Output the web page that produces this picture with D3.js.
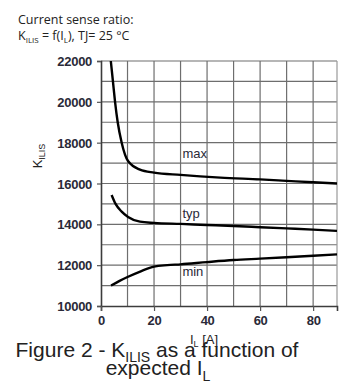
<!DOCTYPE html>
<html>
<head>
<meta charset="utf-8">
<script src="https://cdn.jsdelivr.net/npm/d3@7"></script>
<style>
  body { margin: 0; background: #fff; }
  svg { display: block; }
</style>
</head>
<body>
<svg id="chart" width="344" height="388"></svg>
<script>
// curve data: current I_L [A] -> K_ILIS
const maxCurrent = [3.7, 4.5, 5.3, 6.3, 7.8, 10.2, 14.7, 20, 30, 45, 60, 70, 80, 89];
const maxValues = [22000, 21000, 20000, 19000, 18000, 17100, 16680, 16530, 16420, 16290, 16200, 16130, 16060, 16000];

const typCurrent = [4.0, 5.5, 7.8, 10.2, 14.7, 20, 30, 40, 50, 60, 70, 80, 89];
const typValues = [15440, 15000, 14620, 14360, 14130, 14070, 14020, 13970, 13920, 13860, 13800, 13740, 13680];

const minCurrent = [3.8, 7, 10, 15, 20, 25, 30, 40, 50, 60, 70, 80, 89];
const minValues = [11000, 11230, 11420, 11700, 11930, 12000, 12040, 12150, 12250, 12320, 12390, 12460, 12530];

const curveNames = ['max', 'typ', 'min'];
const labelValues = [17240, 14300, 11470];

const xTicks = [0, 20, 40, 60, 80];
const yTicks = [10000, 12000, 14000, 16000, 18000, 20000, 22000];

const series = [
  { name: curveNames[0], xs: maxCurrent, ys: maxValues, label: labelValues[0] },
  { name: curveNames[1], xs: typCurrent, ys: typValues, label: labelValues[1] },
  { name: curveNames[2], xs: minCurrent, ys: minValues, label: labelValues[2] }
];

const svg = d3.select('#chart');
const plotL = 101, plotR = 337, plotT = 61, plotB = 306;
const textColor = '#2a2a38';

const x = d3.scaleLinear().domain([0, 89]).range([plotL, plotR]);
const y = d3.scaleLinear().domain([10000, 22000]).range([plotB, plotT]);

// header text
const head = svg.append('g')
  .style('font-family', '"Open Sans", sans-serif')
  .style('font-size', '12.5px')
  .attr('fill', '#222');
head.append('text').attr('x', 18).attr('y', 24).text('Current sense ratio:');
const h2 = head.append('text').attr('x', 18).attr('y', 40);
h2.append('tspan').text('K');
h2.append('tspan').attr('dy', 3).style('font-size', '8px').text('ILIS');
h2.append('tspan').attr('dy', -3).text(' = f(I');
h2.append('tspan').attr('dy', 3).style('font-size', '8px').text('L');
h2.append('tspan').attr('dy', -3).text('), TJ= 25 °C');

// grid
const grid = svg.append('g').attr('stroke', '#6e6e6e').attr('stroke-width', 1.2);
grid.selectAll('.vg')
  .data(d3.range(10, 89, 10))
  .enter().append('line')
  .attr('x1', d => x(d)).attr('x2', d => x(d))
  .attr('y1', plotT).attr('y2', plotB);
grid.selectAll('.hg')
  .data(d3.range(11000, 22001, 1000))
  .enter().append('line')
  .attr('x1', plotL).attr('x2', plotR)
  .attr('y1', d => y(d)).attr('y2', d => y(d));
grid.append('line')
  .attr('x1', plotR).attr('x2', plotR)
  .attr('y1', plotT).attr('y2', plotB)
  .attr('stroke', '#999');

// axes
const yAxis = d3.axisLeft(y).tickValues(yTicks).tickSize(4).tickFormat(d3.format('d'));
const xAxis = d3.axisBottom(x).tickValues(xTicks).tickSize(5).tickFormat(d3.format('d'));

const gy = svg.append('g').attr('transform', `translate(${plotL},0)`).call(yAxis);
const gx = svg.append('g').attr('transform', `translate(0,${plotB})`).call(xAxis);
[gx, gy].forEach(g => {
  g.select('.domain').attr('stroke', '#3c3c3c').attr('stroke-width', 1.6);
  g.selectAll('.tick line').attr('stroke', '#555').attr('stroke-width', 1.2);
  g.selectAll('.tick text')
    .attr('fill', textColor)
    .style('font-family', '"Liberation Sans", Arial, sans-serif')
    .style('font-size', '13px')
    .style('font-weight', 'bold')
    .style('letter-spacing', '-0.3px');
});
gy.selectAll('.tick text').attr('x', -9).attr('dy', '0.35em');
gx.selectAll('.tick text').attr('y', 10).attr('dy', '0.71em');

// curves
const line = d3.line()
  .x(d => x(d[0]))
  .y(d => y(d[1]))
  .curve(d3.curveMonotoneX);

svg.append('g').selectAll('path')
  .data(series)
  .enter().append('path')
  .attr('d', s => line(s.xs.map((v, i) => [v, s.ys[i]])))
  .attr('fill', 'none')
  .attr('stroke', '#000')
  .attr('stroke-width', 2.4);

svg.append('g').selectAll('text')
  .data(series)
  .enter().append('text')
  .attr('x', x(30.7))
  .attr('y', s => y(s.label))
  .attr('fill', textColor)
  .style('font-family', '"Liberation Sans", Arial, sans-serif')
  .style('font-size', '13px')
  .text(s => s.name);

// axis titles
const yl = svg.append('text')
  .attr('transform', 'translate(42,156) rotate(-90)')
  .attr('text-anchor', 'middle')
  .attr('fill', '#222')
  .style('font-family', '"Liberation Sans", Arial, sans-serif')
  .style('font-size', '13px');
yl.append('tspan').text('K');
yl.append('tspan').attr('dy', 3).style('font-size', '9px').text('ILIS');

const xl = svg.append('text')
  .attr('x', 204).attr('y', 344)
  .attr('text-anchor', 'middle')
  .attr('fill', '#222')
  .style('font-family', '"Liberation Sans", Arial, sans-serif')
  .style('font-size', '13px');
xl.append('tspan').text('I');
xl.append('tspan').attr('dy', 3).style('font-size', '9px').text('L');
xl.append('tspan').attr('dy', -3).text(' [A]');

// caption
const cap = svg.append('g')
  .attr('fill', '#222')
  .attr('text-anchor', 'middle')
  .style('font-family', '"Liberation Sans", Arial, sans-serif')
  .style('font-size', '21px');
const c1 = cap.append('text').attr('x', 157).attr('y', 357);
c1.append('tspan').text('Figure 2 - K');
c1.append('tspan').attr('dy', 5).style('font-size', '14px').text('ILIS');
c1.append('tspan').attr('dy', -5).text(' as a function of');
const c2 = cap.append('text').attr('x', 158).attr('y', 375);
c2.append('tspan').text('expected I');
c2.append('tspan').attr('dy', 6).style('font-size', '14px').text('L');
</script>
</body>
</html>
